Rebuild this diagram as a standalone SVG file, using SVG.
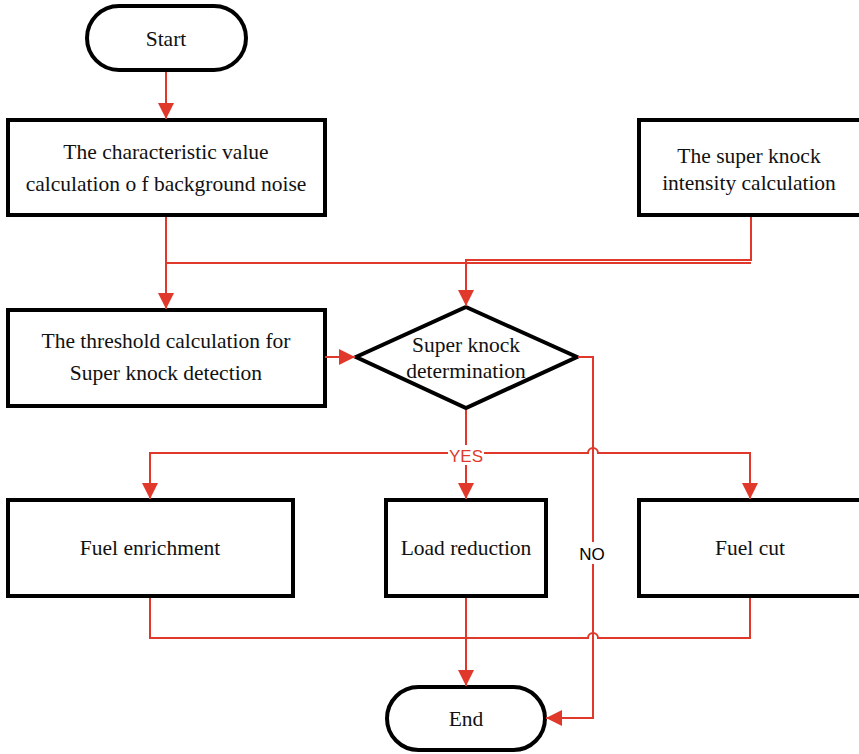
<svg xmlns="http://www.w3.org/2000/svg" width="859" height="754" viewBox="0 0 859 754">
  <style>
    .box { fill: #ffffff; stroke: #000000; stroke-width: 4; }
    .lbl { font-family: "Liberation Serif", "Times New Roman", serif; font-size: 21.5px; fill: #111111; text-anchor: middle; }
    .wire { fill: none; stroke: #e0392b; stroke-width: 2; }
    .tag { font-family: "Liberation Sans", Arial, sans-serif; font-size: 17px; text-anchor: middle; }
  </style>
  <defs>
    <marker id="arrow" markerUnits="userSpaceOnUse" markerWidth="16" markerHeight="16" viewBox="0 0 16 16" refX="16" refY="8" orient="auto">
      <path d="M0,0 L16,8 L0,16 Z" fill="#e0392b"/>
    </marker>
  </defs>
  <rect width="859" height="754" fill="#ffffff"/>

  <!-- nodes -->
  <g id="start">
    <rect x="87" y="6" width="159" height="64" rx="32" class="box"/>
    <text x="166" y="46" class="lbl">Start</text>
  </g>
  <g id="noise">
    <rect x="8" y="120" width="317" height="95" class="box"/>
    <text x="166" y="159" class="lbl">The characteristic value</text>
    <text x="166" y="191" class="lbl">calculation o f background noise</text>
  </g>
  <g id="intensity">
    <rect x="639" y="120" width="222" height="95" class="box"/>
    <text x="749" y="163" class="lbl">The super knock</text>
    <text x="749" y="190" class="lbl">intensity calculation</text>
  </g>
  <g id="threshold">
    <rect x="8" y="310" width="317" height="96" class="box"/>
    <text x="166" y="348" class="lbl">The threshold calculation for</text>
    <text x="166" y="380" class="lbl">Super knock detection</text>
  </g>
  <g id="decision">
    <polygon points="466,307 577,357 466,408 356,357" class="box"/>
    <text x="466" y="352" class="lbl">Super knock</text>
    <text x="466" y="378" class="lbl">determination</text>
  </g>
  <g id="enrichment">
    <rect x="8" y="500" width="285" height="96" class="box"/>
    <text x="150" y="555" class="lbl">Fuel enrichment</text>
  </g>
  <g id="load">
    <rect x="386" y="500" width="160" height="96" class="box"/>
    <text x="466" y="555" class="lbl">Load reduction</text>
  </g>
  <g id="cut">
    <rect x="639" y="500" width="222" height="96" class="box"/>
    <text x="750" y="555" class="lbl">Fuel cut</text>
  </g>
  <g id="end">
    <rect x="387" y="687" width="158" height="63" rx="31.5" class="box"/>
    <text x="466" y="726" class="lbl" font-size="24">End</text>
  </g>

  <!-- connectors -->
  <g id="connectors">
    <path d="M166,72 V119" class="wire" marker-end="url(#arrow)"/>
    <path d="M166,217 V309" class="wire" marker-end="url(#arrow)"/>
    <path d="M166,263 H751" class="wire"/>
    <path d="M751,217 V260 H466 V306" class="wire" marker-end="url(#arrow)"/>
    <path d="M325,357 H355" class="wire" marker-end="url(#arrow)"/>

    <!-- YES branch -->
    <path d="M466,410 V499" class="wire" marker-end="url(#arrow)"/>
    <path d="M150,499 V453 H588 A5,5 0 0 1 598,453 H750 V499" class="wire" marker-end="url(#arrow)"/>
    <path d="M150,453 V499" class="wire" marker-end="url(#arrow)"/>

    <!-- NO branch -->
    <path d="M578,357 H593 V718 H546" class="wire" marker-end="url(#arrow)"/>

    <!-- outcomes to End -->
    <path d="M150,598 V638 H588 A5,5 0 0 1 598,638 H750 V598" class="wire"/>
    <path d="M466,598 V686" class="wire" marker-end="url(#arrow)"/>

    <rect x="448" y="445" width="36" height="20" fill="#ffffff"/>
    <text x="466" y="462" class="tag" fill="#e0392b">YES</text>
    <rect x="578" y="542" width="30" height="22" fill="#ffffff"/>
    <text x="592" y="560" class="tag" fill="#000000">NO</text>
  </g>
</svg>
